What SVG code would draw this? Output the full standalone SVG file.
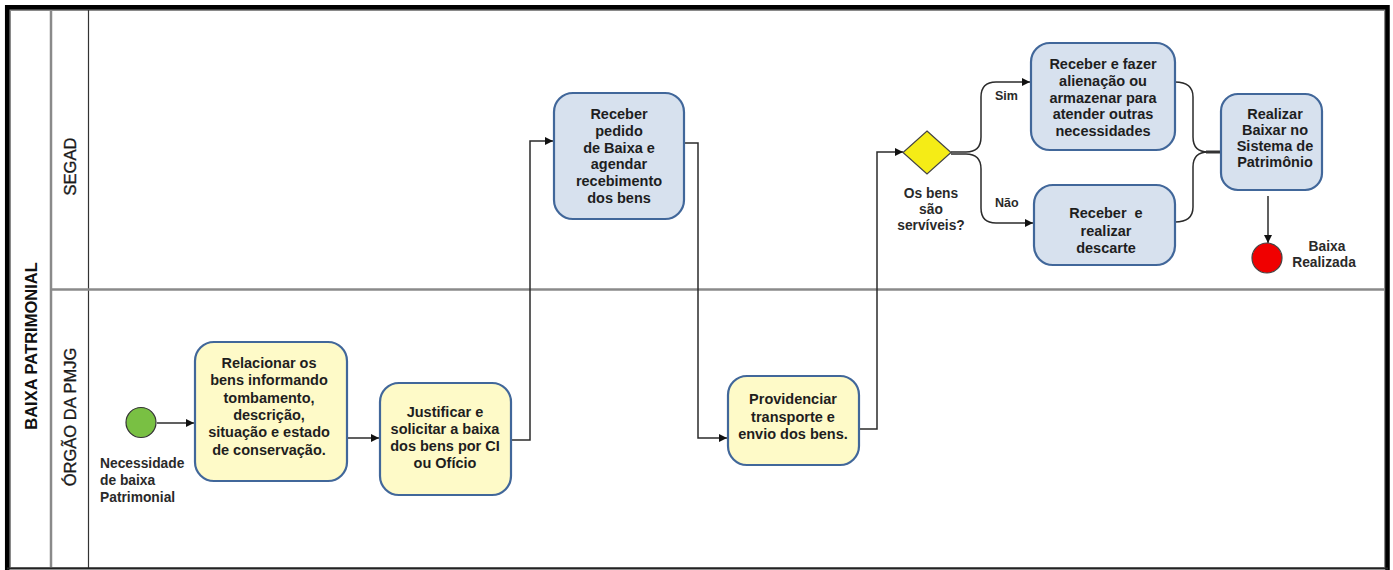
<svg xmlns="http://www.w3.org/2000/svg" width="1393" height="570" viewBox="0 0 1393 570">
  <style>
    .frame { fill: none; stroke: #000; stroke-width: 4.5; }
    .pool { fill: #fff; stroke: #8a8a8a; stroke-width: 2; }
    .sep { stroke: #8a8a8a; stroke-width: 2.5; }
    .sepdark { stroke: #333; stroke-width: 1.2; }
    .task-y { fill: #fefac8; stroke: #41679a; stroke-width: 2.2; }
    .task-b { fill: #d7e1ee; stroke: #41679a; stroke-width: 2.2; }
    .t { font-family: "Liberation Sans", Arial, sans-serif; font-weight: bold; font-size: 14.5px; fill: #1e1e1e; text-anchor: middle; }
    .lbl { font-family: "Liberation Sans", Arial, sans-serif; font-weight: bold; font-size: 13.8px; fill: #2a2a2a; }
    .small { font-family: "Liberation Sans", Arial, sans-serif; font-weight: bold; font-size: 12.5px; fill: #2a2a2a; }
    .lane { font-family: "Liberation Sans", Arial, sans-serif; font-size: 16.5px; fill: #1a1a1a; stroke: #1a1a1a; stroke-width: 0.35; text-anchor: middle; }
    .poolname { font-family: "Liberation Sans", Arial, sans-serif; font-weight: bold; font-size: 16.5px; fill: #111; text-anchor: middle; }
    .flow { fill: none; stroke: #2b2b2b; stroke-width: 1.5; }
  </style>
  <defs>
    <marker id="arrow" viewBox="0 0 10 10" refX="10" refY="5" markerWidth="10" markerHeight="8" markerUnits="userSpaceOnUse" orient="auto">
      <path d="M0,0 L10,5 L0,10 z" fill="#111"/>
    </marker>
  </defs>

  <rect x="0" y="0" width="1393" height="570" fill="#fff"/>

  <!-- pool and lanes -->
  <g id="pool">
    <rect class="pool" x="10" y="10" width="1375" height="558"/>
    <line class="sep" x1="51" y1="10" x2="51" y2="568"/>
    <line class="sepdark" x1="88.5" y1="10" x2="88.5" y2="568"/>
    <line class="sep" x1="51" y1="289.5" x2="1385" y2="289.5"/>
    <text class="poolname" transform="translate(37,346) rotate(-90)">BAIXA PATRIMONIAL</text>
    <text class="lane" transform="translate(75.5,166.5) rotate(-90)">SEGAD</text>
    <text class="lane" transform="translate(75.5,417) rotate(-90)">ÓRGÃO DA PMJG</text>
  </g>

  <!-- outer frame -->
  <path class="frame" d="M7.2,575 L7.2,7.2 L1387.5,7.2 L1387.5,575"/>
  <line x1="7" y1="568.5" x2="1388" y2="568.5" stroke="#222" stroke-width="2"/>

  <!-- sequence flows -->
  <g id="connectors">
    <path class="flow" d="M157,423 L194,423" marker-end="url(#arrow)"/>
    <path class="flow" d="M347,438 L379,438" marker-end="url(#arrow)"/>
    <path class="flow" d="M511,440 L530,440 L530,141 L553,141" marker-end="url(#arrow)"/>
    <path class="flow" d="M684,143 L698,143 L698,438 L727,438" marker-end="url(#arrow)"/>
    <path class="flow" d="M859,429 L877,429 L877,152 L903,152" marker-end="url(#arrow)"/>
    <path class="flow" d="M951,152 L966,152 Q981,152 981,137 L981,97 Q981,82 996,82 L1030,82" marker-end="url(#arrow)"/>
    <path class="flow" d="M951,154 L966,154 Q981,154 981,169 L981,208 Q981,223 996,223 L1033,223" marker-end="url(#arrow)"/>
    <path class="flow" d="M1175,82 Q1193,82 1193,97 L1193,137 Q1193,152 1208,152"/>
    <path class="flow" d="M1175,222 Q1193,222 1193,207 L1193,167 Q1193,152 1208,152"/>
    <path d="M1206,152 L1221,152" stroke="#333" stroke-width="3"/>
    <path class="flow" d="M1268,196 L1268,243" marker-end="url(#arrow)"/>
  </g>

  <!-- start event -->
  <g id="start">
    <circle cx="141" cy="422.5" r="15" fill="#79c043" stroke="#333" stroke-width="1.2"/>
    <text class="lbl" x="100" y="468">Necessidade</text>
    <text class="lbl" x="100" y="485">de baixa</text>
    <text class="lbl" x="100" y="502">Patrimonial</text>
  </g>

  <g id="task-relacionar">
    <rect class="task-y" x="195" y="342" width="152" height="139" rx="19"/>
    <text class="t" x="269" y="368">Relacionar os</text>
    <text class="t" x="269" y="385.3">bens informando</text>
    <text class="t" x="269" y="402.6">tombamento,</text>
    <text class="t" x="269" y="420">descrição,</text>
    <text class="t" x="269" y="437.2">situação e estado</text>
    <text class="t" x="269" y="454.5">de conservação.</text>
  </g>

  <g id="task-justificar">
    <rect class="task-y" x="380" y="383" width="131" height="112" rx="19"/>
    <text class="t" x="445" y="417">Justificar e</text>
    <text class="t" x="445" y="434">solicitar a baixa</text>
    <text class="t" x="445" y="451">dos bens por CI</text>
    <text class="t" x="445" y="468">ou Ofício</text>
  </g>

  <g id="task-receber-pedido">
    <rect class="task-b" x="554" y="93" width="130" height="126" rx="19"/>
    <text class="t" x="619" y="119">Receber</text>
    <text class="t" x="619" y="135.8">pedido</text>
    <text class="t" x="619" y="152.6">de Baixa e</text>
    <text class="t" x="619" y="169.4">agendar</text>
    <text class="t" x="619" y="186.2">recebimento</text>
    <text class="t" x="619" y="203">dos bens</text>
  </g>

  <g id="task-providenciar">
    <rect class="task-y" x="728" y="376" width="131" height="89" rx="19"/>
    <text class="t" x="793" y="404">Providenciar</text>
    <text class="t" x="793" y="421.5">transporte e</text>
    <text class="t" x="793" y="439">envio dos bens.</text>
  </g>

  <!-- exclusive gateway -->
  <g id="gateway">
    <polygon points="927,131 951,152.5 927,174 903,152.5" fill="#f5ec16" stroke="#444" stroke-width="1.2"/>
    <text class="lbl" x="931" y="198" text-anchor="middle">Os bens</text>
    <text class="lbl" x="931" y="214" text-anchor="middle">são</text>
    <text class="lbl" x="931" y="230" text-anchor="middle">servíveis?</text>
    <text class="small" x="995" y="100">Sim</text>
    <text class="small" x="995" y="207">Não</text>
  </g>

  <g id="task-alienacao">
    <rect class="task-b" x="1031" y="43" width="144" height="107" rx="19"/>
    <text class="t" x="1103" y="69">Receber e fazer</text>
    <text class="t" x="1103" y="85.8">alienação ou</text>
    <text class="t" x="1103" y="102.5">armazenar para</text>
    <text class="t" x="1103" y="119.3">atender outras</text>
    <text class="t" x="1103" y="136">necessidades</text>
  </g>

  <g id="task-descarte">
    <rect class="task-b" x="1034" y="185" width="141" height="80" rx="19"/>
    <text class="t" x="1106" y="218" xml:space="preserve">Receber  e</text>
    <text class="t" x="1106" y="235.5">realizar</text>
    <text class="t" x="1106" y="253">descarte</text>
  </g>

  <g id="task-sistema">
    <rect class="task-b" x="1221" y="94" width="101" height="96" rx="17"/>
    <text class="t" x="1275" y="119">Realizar</text>
    <text class="t" x="1275" y="135">Baixar no</text>
    <text class="t" x="1275" y="151">Sistema de</text>
    <text class="t" x="1275" y="167">Patrimônio</text>
  </g>

  <!-- end event -->
  <g id="end">
    <circle cx="1267" cy="258" r="15" fill="#f00000" stroke="#444" stroke-width="1.2"/>
    <text class="lbl" x="1327" y="251" text-anchor="middle">Baixa</text>
    <text class="lbl" x="1324" y="267" text-anchor="middle">Realizada</text>
  </g>
</svg>
